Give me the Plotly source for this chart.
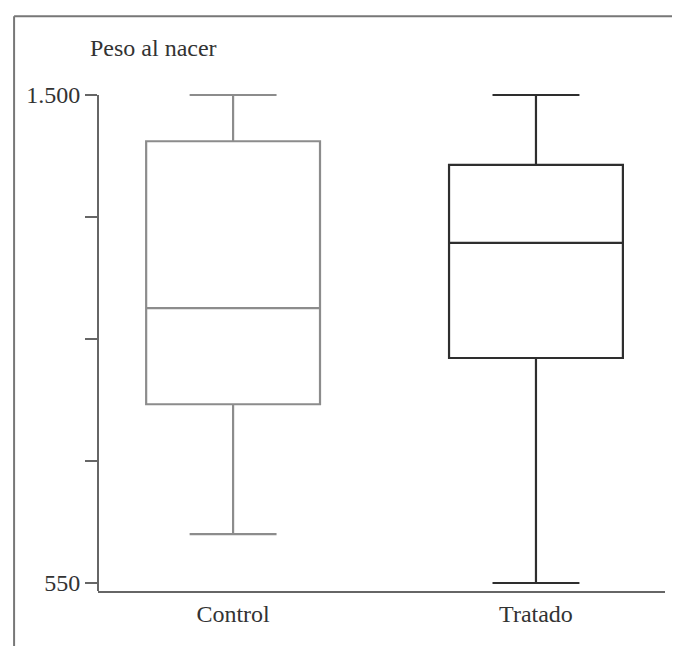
import plotly.graph_objects as go

# Data
groups = ["Control", "Tratado"]
lower_whisker = [645, 550]
q1_vals = [898, 988]
median_vals = [1085, 1212]
q3_vals = [1410, 1364]
upper_whisker = [1500, 1500]
y_tick_vals = [550, 787.5, 1025, 1262.5, 1500]
y_tick_text = ["550", "", "", "", "1.500"]
line_colors = ["#8c8c8c", "#2e2e2e"]

fig = go.Figure()
for i, g in enumerate(groups):
    fig.add_trace(go.Box(
        x=[g], q1=[q1_vals[i]], median=[median_vals[i]], q3=[q3_vals[i]],
        lowerfence=[lower_whisker[i]], upperfence=[upper_whisker[i]],
        name=g, width=0.574, whiskerwidth=0.5,
        line=dict(color=line_colors[i], width=2.2),
        fillcolor="rgba(255,255,255,0)", boxpoints=False, showlegend=False,
        hoverinfo="skip",
    ))

serif = "Liberation Serif, Times New Roman, serif"
ymin, ymax = 534.4, 1519.5

fig.update_layout(
    width=680, height=646,
    margin=dict(l=90, r=23, t=77, b=63),
    paper_bgcolor="white", plot_bgcolor="white",
    font=dict(family=serif, size=23, color="#333333"),
    xaxis=dict(range=[-0.446, 1.426], showgrid=False, zeroline=False,
               showline=True, linecolor="#666666", linewidth=2,
               ticks="", tickfont=dict(family=serif, size=24, color="#333333")),
    yaxis=dict(range=[ymin, ymax], showgrid=False, zeroline=False,
               showline=False, tickvals=y_tick_vals, ticktext=y_tick_text,
               ticks="outside", ticklen=12, tickwidth=2, tickcolor="#666666",
               tickfont=dict(family=serif, size=24, color="#333333")),
    shapes=[
        # y-axis line from bottom to 1500
        dict(type="line", xref="paper", yref="y", x0=0, x1=0, y0=ymin, y1=upper_whisker[0],
             line=dict(color="#666666", width=2)),
        # outer frame (left and top)
        dict(type="line", xref="paper", yref="paper", x0=-0.148, x1=-0.148, y0=-0.2, y1=1.136,
             line=dict(color="#777777", width=2)),
        dict(type="line", xref="paper", yref="paper", x0=-0.148, x1=1.1, y0=1.136, y1=1.136,
             line=dict(color="#777777", width=2)),
    ],
    annotations=[
        dict(text="Peso al nacer", xref="paper", yref="paper", x=-0.018, y=1.073,
             xanchor="left", yanchor="middle", showarrow=False,
             font=dict(family=serif, size=24, color="#333333")),
    ],
)

fig.write_html("out.html")
